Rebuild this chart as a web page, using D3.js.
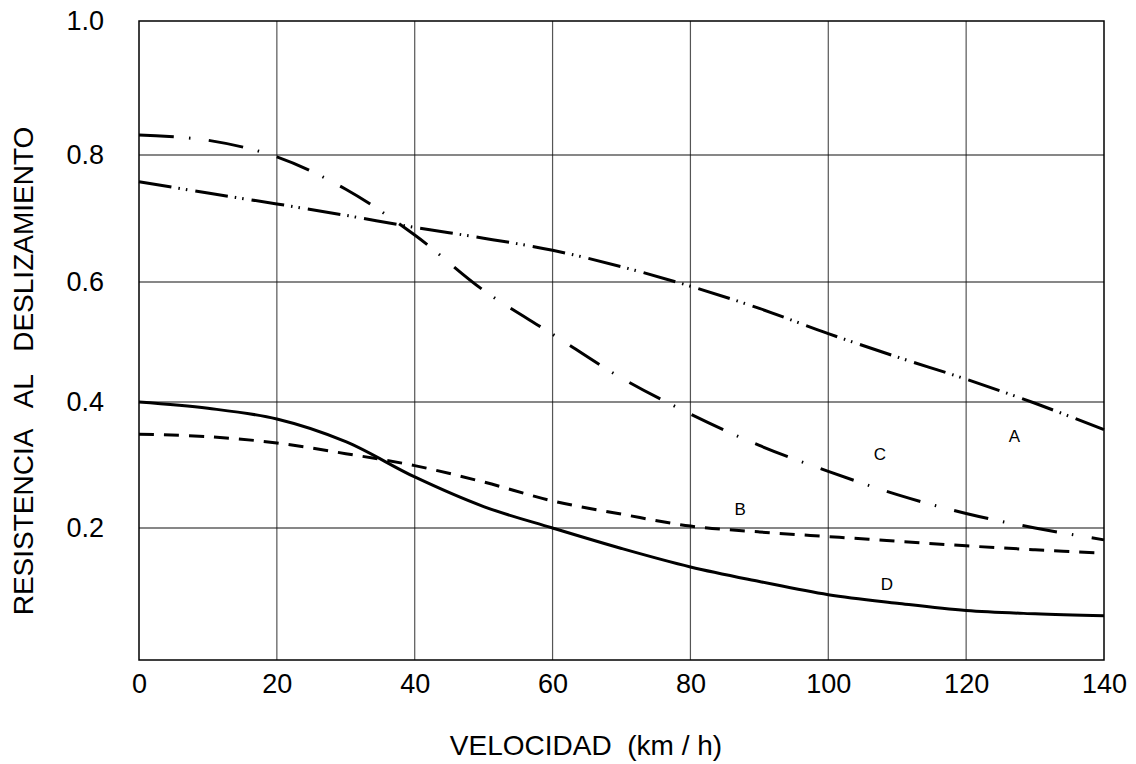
<!DOCTYPE html>
<html>
<head>
<meta charset="utf-8">
<script src="https://cdn.jsdelivr.net/npm/d3@7"></script>
<style>
  html, body { margin: 0; padding: 0; background: #fff; }
  svg { display: block; }
  text { font-family: "Liberation Sans", Arial, sans-serif; fill: #000; }
</style>
</head>
<body>
<svg id="chart" width="1136" height="764"></svg>
<script>
// ---- data ----
const speeds = [0, 10, 20, 30, 40, 50, 60, 70, 80, 90, 100, 110, 120, 130, 140];
const curveA = [0.758, 0.740, 0.723, 0.705, 0.686, 0.669, 0.650, 0.624, 0.593, 0.556, 0.514, 0.475, 0.438, 0.398, 0.356];
const curveB = [0.349, 0.345, 0.335, 0.318, 0.299, 0.273, 0.243, 0.222, 0.203, 0.194, 0.187, 0.180, 0.173, 0.167, 0.162];
const curveC = [0.830, 0.822, 0.797, 0.746, 0.674, 0.586, 0.513, 0.440, 0.381, 0.331, 0.290, 0.253, 0.223, 0.200, 0.182];
const curveD = [0.400, 0.390, 0.373, 0.337, 0.281, 0.234, 0.200, 0.169, 0.141, 0.119, 0.099, 0.086, 0.075, 0.070, 0.067];
const xTicks = [0, 20, 40, 60, 80, 100, 120, 140];
const yTicks = [0.2, 0.4, 0.6, 0.8, 1.0];
const curveLabels = [
  { name: "A", v: 127.0, r: 0.346 },
  { name: "B", v: 87.2, r: 0.229 },
  { name: "C", v: 107.5, r: 0.317 },
  { name: "D", v: 108.5, r: 0.114 }
];
const xTitle = "VELOCIDAD  (km / h)";
const yTitle = "RESISTENCIA   AL   DESLIZAMIENTO";

// ---- layout ----
const svg = d3.select("#chart");
const pLeft = 139, pRight = 1104, pTop = 21, pBottom = 660;

const x = d3.scaleLinear().domain([0, 140]).range([pLeft, pRight]);
// the printed grid is slightly uneven; follow it with a piecewise linear scale
const y = d3.scaleLinear()
  .domain([0, 0.2, 0.4, 0.6, 0.8, 1.0])
  .range([pBottom, 528, 402, 282, 155, pTop]);

// grid
const grid = svg.append("g");
grid.selectAll("line.v")
  .data(xTicks.filter(d => d > 0 && d < 140))
  .join("line")
  .attr("class", "v")
  .attr("x1", d => x(d)).attr("x2", d => x(d))
  .attr("y1", pTop).attr("y2", pBottom)
  .attr("stroke", "#555").attr("stroke-width", 1.2);
grid.selectAll("line.h")
  .data(yTicks.filter(d => d < 1.0))
  .join("line")
  .attr("class", "h")
  .attr("x1", pLeft).attr("x2", pRight)
  .attr("y1", d => y(d)).attr("y2", d => y(d))
  .attr("stroke", "#111").attr("stroke-width", 1.2);

// frame
svg.append("rect")
  .attr("x", pLeft).attr("y", pTop)
  .attr("width", pRight - pLeft).attr("height", pBottom - pTop)
  .attr("fill", "none").attr("stroke", "#000").attr("stroke-width", 1.5);

// axes (labels only)
const xAxis = d3.axisBottom(x).tickValues(xTicks).tickFormat(d3.format("d")).tickSize(0).tickPadding(14);
const gx = svg.append("g").attr("transform", `translate(0,${pBottom})`).call(xAxis);
gx.select(".domain").remove();
gx.selectAll("text").style("font-size", "27px").style("font-family", '"Liberation Sans", Arial, sans-serif').attr("fill", "#000");

const yAxis = d3.axisLeft(y).tickValues(yTicks).tickFormat(d3.format(".1f")).tickSize(0).tickPadding(pLeft - 104);
const gy = svg.append("g").attr("transform", `translate(${pLeft},0)`).call(yAxis);
gy.select(".domain").remove();
gy.selectAll("text").style("font-size", "27px").style("font-family", '"Liberation Sans", Arial, sans-serif').attr("fill", "#000");

// curves
const line = d3.line()
  .x(d => x(d[0]))
  .y(d => y(d[1]))
  .curve(d3.curveCatmullRom.alpha(0.5));

const series = [
  { values: curveA, dash: "33,7,1.5,6,1.5,8" },
  { values: curveB, dash: "15,10" },
  { values: curveC, dash: "35,15,1.5,18.5" },
  { values: curveD, dash: null }
];

svg.append("g").selectAll("path")
  .data(series)
  .join("path")
  .attr("d", s => line(speeds.map((v, i) => [v, s.values[i]])))
  .attr("fill", "none")
  .attr("stroke", "#000")
  .attr("stroke-width", 3)
  .attr("stroke-linecap", "butt")
  .attr("stroke-dasharray", s => s.dash);

// curve labels
svg.append("g").selectAll("text")
  .data(curveLabels)
  .join("text")
  .attr("x", d => x(d.v))
  .attr("y", d => y(d.r))
  .attr("text-anchor", "middle")
  .attr("dominant-baseline", "central")
  .style("font-size", "17px")
  .text(d => d.name);

// titles
svg.append("text")
  .attr("x", 586).attr("y", 755)
  .attr("text-anchor", "middle")
  .style("font-size", "28px")
  .style("white-space", "pre")
  .text(xTitle);

svg.append("text")
  .attr("transform", "translate(33,371) rotate(-90)")
  .attr("text-anchor", "middle")
  .style("font-size", "28px")
  .style("white-space", "pre")
  .text(yTitle);
</script>
</body>
</html>
